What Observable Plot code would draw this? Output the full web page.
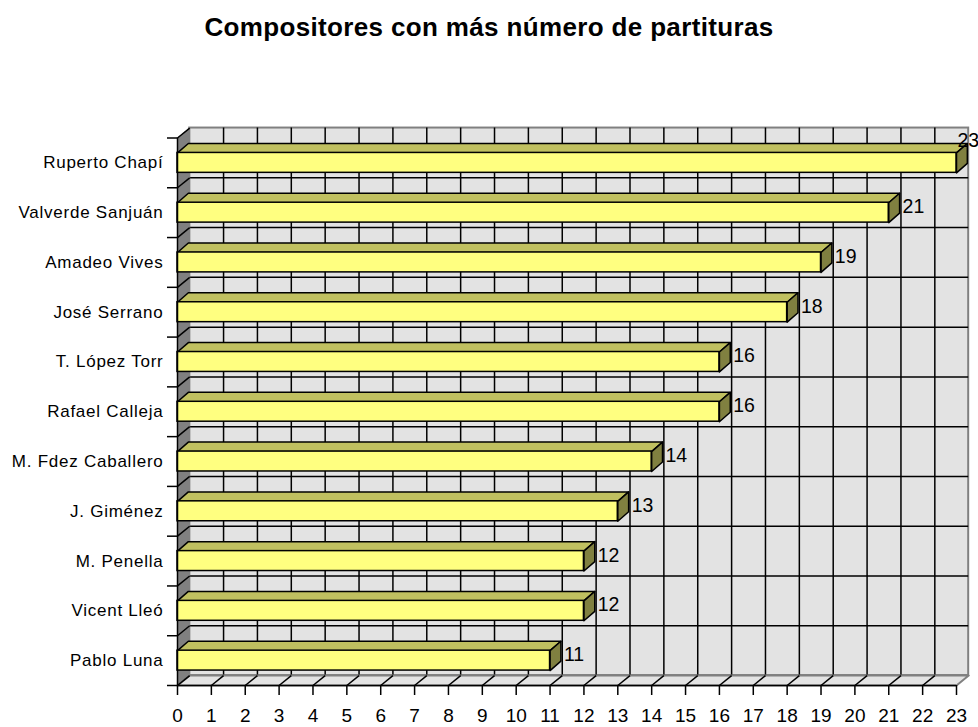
<!DOCTYPE html>
<html>
<head>
<meta charset="utf-8">
<script src="https://cdn.jsdelivr.net/npm/d3@7"></script>
<script src="https://cdn.jsdelivr.net/npm/@observablehq/plot@0.6"></script>
<style>
  body { margin: 0; background: #fff; font-family: "Liberation Sans", Arial, sans-serif; }
  #title { width: 978px; height: 54px; line-height: 54px; text-align: center; font-size: 26px; letter-spacing: 0.35px; font-weight: bold; color: #000; }
</style>
</head>
<body>
<div id="title">Compositores con más número de partituras</div>
<div id="chart"></div>
<script>
// ---- data ----
const names = ["Ruperto Chapí", "Valverde Sanjuán", "Amadeo Vives", "José Serrano", "T. López Torr", "Rafael Calleja", "M. Fdez Caballero", "J. Giménez", "M. Penella", "Vicent Lleó", "Pablo Luna"];
const values = [23, 21, 19, 18, 16, 16, 14, 13, 12, 12, 11];
const xTicks = d3.range(0, 24);

// ---- 3D geometry (in scale units) ----
const XMAX = 23, NCAT = names.length;
const WDX = 0.36, WDY = 0.2;   // wall depth
const BDX = 0.32, BDY = 0.19;  // bar depth
const H = 0.2;                 // half bar thickness

const rows = names.map((name, i) => ({name, value: values[i], yc: i + 0.5}));
const maxV = d3.max(values);

const poly = (id, pts) => pts.concat([pts[0]]).map(([x, y]) => ({id, x, y}));
const topFaces = rows.flatMap(r => poly(r.name, [[0, r.yc - H], [r.value, r.yc - H], [r.value + BDX, r.yc - H - BDY], [BDX, r.yc - H - BDY]]));
const sideFaces = rows.flatMap(r => poly(r.name, [[r.value, r.yc - H], [r.value + BDX, r.yc - H - BDY], [r.value + BDX, r.yc + H - BDY], [r.value, r.yc + H]]));
const leftWall = poly("lw", [[0, 0], [WDX, -WDY], [WDX, NCAT - WDY], [0, NCAT]]);
const floor = poly("fl", [[0, NCAT], [XMAX, NCAT], [XMAX + WDX, NCAT - WDY], [WDX, NCAT - WDY]]);
const bounds = d3.range(0, NCAT + 1);

const chart = Plot.plot({
  width: 978,
  height: 673,
  marginLeft: 177,
  marginRight: 22,
  marginTop: 83.5,
  marginBottom: 42,
  style: {fontFamily: "'Liberation Sans', Arial, sans-serif", background: "white", color: "black", overflow: "visible"},
  x: {domain: [0, XMAX]},
  y: {domain: [0, NCAT], reverse: true},
  marks: [
    // back wall
    Plot.rect([0], {x1: WDX, x2: XMAX + WDX, y1: -WDY, y2: NCAT - WDY, fill: "#e3e3e3", stroke: "#808080", strokeWidth: 2}),
    Plot.ruleX(d3.range(1, XMAX), {x: d => d + WDX, y1: -WDY, y2: NCAT - WDY, stroke: "black", strokeWidth: 1.5}),
    Plot.ruleY(d3.range(1, NCAT), {y: d => d - WDY, x1: WDX, x2: XMAX + WDX, stroke: "black", strokeWidth: 1.5}),
    // left wall
    Plot.line(leftWall, {x: "x", y: "y", z: "id", fill: "#808080", stroke: "#808080", strokeWidth: 1}),
    Plot.link(bounds, {x1: 0, y1: d => d, x2: WDX, y2: d => d - WDY, stroke: "black", strokeWidth: 1.5}),
    // floor
    Plot.line(floor, {x: "x", y: "y", z: "id", fill: "#e3e3e3", stroke: "#808080", strokeWidth: 2}),
    Plot.link(d3.range(0, XMAX), {x1: d => d, y1: NCAT, x2: d => d + WDX, y2: NCAT - WDY, stroke: "black", strokeWidth: 1.5}),
    // bars
    Plot.line(topFaces, {x: "x", y: "y", z: "id", fill: "#c0c060", stroke: "black", strokeWidth: 1.5, strokeLinejoin: "round"}),
    Plot.line(sideFaces, {x: "x", y: "y", z: "id", fill: "#808040", stroke: "black", strokeWidth: 1.5, strokeLinejoin: "round"}),
    Plot.rect(rows, {x1: 0, x2: "value", y1: d => d.yc - H, y2: d => d.yc + H, fill: "#ffff80", stroke: "black", strokeWidth: 1.5}),
    // front axes
    Plot.ruleX([0], {y1: 0, y2: NCAT, stroke: "black", strokeWidth: 1.5}),
    Plot.ruleY([NCAT], {x1: 0, x2: XMAX, stroke: "black", strokeWidth: 1.5}),
    Plot.axisX({ticks: xTicks, tickSize: 10, tickFormat: () => "", stroke: "black", strokeWidth: 1.5, label: null}),
    Plot.axisY({ticks: bounds, tickSize: 10, tickFormat: () => "", stroke: "black", strokeWidth: 1.5, label: null}),
    // x tick labels
    Plot.text(xTicks, {x: d => d, y: NCAT, text: d => String(d), dy: 30, fontSize: 19, fill: "black"}),
    // category labels
    Plot.text(rows, {x: 0, y: "yc", text: "name", textAnchor: "end", dx: -14, fontSize: 17, fill: "black"}),
    // value labels
    Plot.text(rows.filter(d => d.value < maxV), {x: d => d.value + BDX, y: d => d.yc - BDY / 2, text: d => String(d.value), textAnchor: "start", dx: 3, dy: -1, fontSize: 19.5, fill: "black"}),
    Plot.text(rows.filter(d => d.value === maxV), {x: "value", y: d => d.yc - H - BDY, text: d => String(d.value), textAnchor: "start", dx: 1, dy: -3, fontSize: 19.5, fill: "black"})
  ]
});
d3.select(chart).selectAll("text").filter(function () { return names.includes(this.textContent); }).attr("letter-spacing", "0.75px");
document.getElementById("chart").appendChild(chart);
</script>
</body>
</html>
